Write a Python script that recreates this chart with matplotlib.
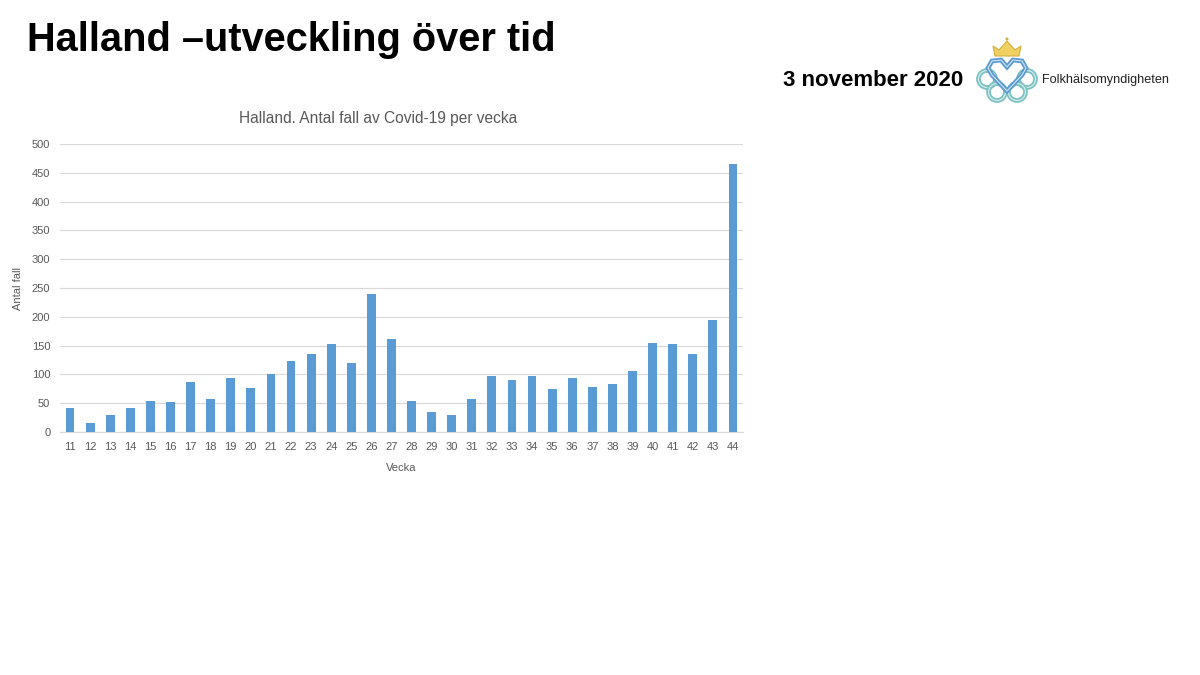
import matplotlib
matplotlib.use("Agg")
import matplotlib.pyplot as plt
from matplotlib.patches import Circle, Polygon

weeks = [str(w) for w in range(11, 45)]
cases = [41, 16, 30, 42, 53, 52, 87, 57, 93, 76, 100, 124, 135, 152, 120, 240, 162,
         54, 34, 29, 58, 98, 90, 98, 75, 93, 78, 83, 106, 155, 153, 136, 194, 466]
yticks = [0, 50, 100, 150, 200, 250, 300, 350, 400, 450, 500]

plt.rcParams['font.family'] = ['Liberation Sans', 'DejaVu Sans']

fig = plt.figure(figsize=(12, 6.75), dpi=100)
fig.patch.set_facecolor('white')

W, H = 1200, 675
def fx(x): return x / W
def fy(y): return 1 - y / H

# Slide title
fig.text(fx(27), fy(40), "Halland –utveckling över tid", fontsize=28.6, fontweight='bold',
         ha='left', va='center', color='black')
fig.text(fx(783), fy(80), "3 november 2020", fontsize=16, fontweight='bold',
         ha='left', va='center', color='black')
fig.text(fx(1042), fy(80), "Folkhälsomyndigheten", fontsize=9.1,
         ha='left', va='center', color='#222222')

# Simplified logo (pixel units inside its own axes)
lx0, ly0, lx1, ly1 = 970, 34, 1042, 106
lax = fig.add_axes([fx(lx0), fy(ly1), (lx1 - lx0) / W, (ly1 - ly0) / H])
lax.set_xlim(lx0, lx1); lax.set_ylim(ly1, ly0); lax.axis('off')
ring = '#7cc2c2'
for cx, cy in [(987, 79), (1027, 79), (997, 92), (1017, 92)]:
    lax.add_patch(Circle((cx, cy), 8.5, fill=False, lw=3.4, ec=ring))
    lax.add_patch(Circle((cx, cy), 8.5, fill=False, lw=0.8, ec='#d8eeee'))
heart = [[1007, 67], [1001, 60], [992, 61], [988, 68], [992, 75],
         [1007, 91], [1022, 75], [1026, 68], [1022, 61], [1013, 60]]
lax.add_patch(Polygon(heart, closed=True, fill=False, lw=3.4, ec='#5b9bd0'))
lax.add_patch(Polygon(heart, closed=True, fill=False, lw=0.8, ec='#cfe3f3'))
lax.add_patch(Polygon([[995, 56], [993, 46], [999, 50], [1007, 41], [1015, 50],
                       [1021, 46], [1019, 56]],
                      closed=True, fc='#f0d060', ec='#d0b040', lw=0.8))
lax.add_patch(Circle((1007, 39), 1.5, fc='#d0b040', ec='none'))

# Chart
ax = fig.add_axes([fx(60), fy(432), fx(743 - 60), (432 - 144) / H])
x = range(len(weeks))
ax.bar(x, cases, width=0.44, color='#5B9BD5', zorder=3)
ax.set_xlim(-0.5, len(weeks) - 0.5)
ax.set_ylim(0, 500)
ax.set_yticks(yticks)
ax.set_xticks(list(x))
ax.set_xticklabels(weeks)
ax.grid(axis='y', color='#D9D9D9', lw=0.9, zorder=0)
for s in ['top', 'right', 'left']:
    ax.spines[s].set_visible(False)
ax.spines['bottom'].set_color('#D9D9D9')
ax.tick_params(axis='both', length=0, labelsize=8, colors='#595959')
ax.tick_params(axis='x', pad=7)
ax.tick_params(axis='y', pad=7)
ax.set_xlabel("Vecka", fontsize=8, color='#595959', labelpad=8)
ax.set_ylabel("Antal fall", fontsize=8, color='#595959')
ax.yaxis.set_label_coords((23 - 60) / 683, 0.5)
fig.text(fx(378), fy(119), "Halland. Antal fall av Covid-19 per vecka", fontsize=11.2,
         color='#595959', ha='center', va='center')

fig.savefig("out.png", dpi=100, facecolor='white')
